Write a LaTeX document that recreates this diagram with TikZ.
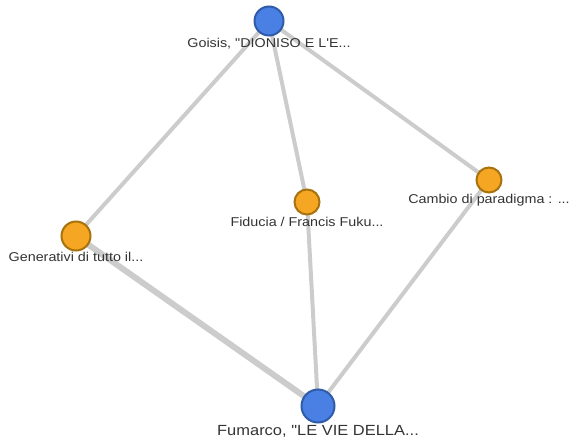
\documentclass[tikz,border=0pt]{standalone}
\usepackage{fontspec}
\setmainfont[FakeStretch=1.12,Ligatures=TeXOff]{Liberation Sans}
\usetikzlibrary{backgrounds}
\definecolor{edgegray}{HTML}{CCCCCC}
\definecolor{bluefill}{HTML}{4A7FE3}
\definecolor{blueline}{HTML}{2F5CA8}
\definecolor{orangefill}{HTML}{F5A623}
\definecolor{orangeline}{HTML}{A8720E}
\definecolor{labeltext}{HTML}{333333}
\begin{document}
\begin{tikzpicture}[x=1pt,y=-1pt,
  edge/.style={draw=edgegray,line width=4pt},
  thickedge/.style={draw=edgegray,line width=6pt},
  bluenode/.style={circle,fill=bluefill,draw=blueline,line width=2pt,inner sep=0pt},
  orangenode/.style={circle,fill=orangefill,draw=orangeline,line width=2pt,inner sep=0pt},
  lbl/.style={text=labeltext,font=\fontsize{12.8}{14}\selectfont,inner sep=0pt},
  biglbl/.style={text=labeltext,font=\fontsize{14.7}{16}\selectfont,inner sep=0pt}]
\useasboundingbox (0,0) rectangle (569,438);
\node[bluenode,minimum size=29pt] (goisis) at (269,21) {};
\node[orangenode,minimum size=29pt] (gen) at (76,236) {};
\node[orangenode,minimum size=25pt] (fid) at (307,202) {};
\node[orangenode,minimum size=25pt] (cambio) at (489,180) {};
\node[bluenode,minimum size=33pt] (fum) at (318,406) {};
\begin{scope}[on background layer]
\draw[edge] (goisis.center) -- (gen.center);
\draw[edge] (goisis.center) -- (fid.center);
\draw[edge] (goisis.center) -- (cambio.center);
\draw[thickedge] (gen.center) -- (fum.center);
\draw[edge] (fid.center) -- (fum.center);
\draw[edge] (cambio.center) -- (fum.center);
\end{scope}
\node[lbl] (lgoisis) at (269,44) {Goisis, "DIONISO E L'E...};
\node[lbl] (lgen) at (76,257) {Generativi di tutto il...};
\node[lbl] (lfid) at (307,222) {Fiducia / Francis Fuku...};
\node[lbl] (lcambio) at (489,200) {Cambio di paradigma : ...};
\node[biglbl] (lfum) at (318,431) {Fumarco, "LE VIE DELLA...};
\end{tikzpicture}
\end{document}
